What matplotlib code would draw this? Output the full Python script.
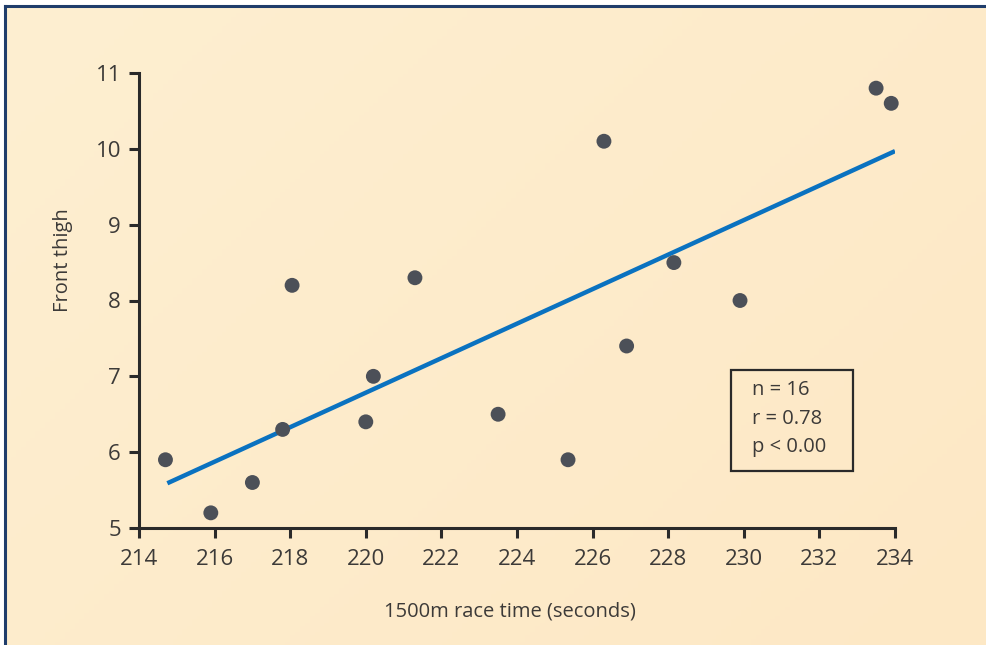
import numpy as np
import matplotlib
matplotlib.use("Agg")
import matplotlib.pyplot as plt
from matplotlib.patches import Rectangle
from matplotlib.colors import LinearSegmentedColormap

plt.rcParams['font.family'] = ['Open Sans', 'DejaVu Sans']

# Race time (s) vs. front thigh measurement
race_time = [214.7, 215.9, 217.0, 217.8, 218.05, 220.0, 220.2, 221.3,
             223.5, 225.35, 226.3, 226.9, 228.15, 229.9, 233.5, 233.9]
front_thigh = [5.9, 5.2, 5.6, 6.3, 8.2, 6.4, 7.0, 8.3,
               6.5, 5.9, 10.1, 7.4, 8.5, 8.0, 10.8, 10.6]

# Fitted trend line end points
fit_x = [214.75, 234.0]
fit_y = [5.59, 9.97]

x_ticks = [214, 216, 218, 220, 222, 224, 226, 228, 230, 232, 234]
y_ticks = [5, 6, 7, 8, 9, 10, 11]
stats_lines = ["n = 16", "r = 0.78", "p < 0.00"]

W, H = 986, 645
fig = plt.figure(figsize=(W / 100, H / 100), dpi=100)
fig.patch.set_facecolor('white')

# Panel background with a soft warm gradient
bg = fig.add_axes([6 / W, 0, 1 - 6 / W, 1 - 7 / H])
bg.set_axis_off()
cmap = LinearSegmentedColormap.from_list('warm', ['#fdefd1', '#fde8c5'])
gx, gy = np.meshgrid(np.linspace(0, 1, 200), np.linspace(0, 1, 200))
bg.imshow(0.6 * gx + 0.4 * gy, cmap=cmap, aspect='auto', extent=[0, 1, 1, 0])
bg.set_xlim(0, 1)
bg.set_ylim(1, 0)

# Frame lines along the top and left edges
fig.add_artist(plt.Line2D([5 / W, 1], [1 - 6 / H, 1 - 6 / H], color='#1f3d6b', lw=2.2))
fig.add_artist(plt.Line2D([5 / W, 5 / W], [0, 1 - 6 / H], color='#1f3d6b', lw=2.2))

ax = fig.add_axes([139 / W, 1 - 528 / H, (895 - 139) / W, (528 - 73) / H])
ax.set_facecolor('none')
ax.set_xlim(214, 234)
ax.set_ylim(5, 11)

ink = '#2a2a2a'
txt = '#3c3a38'
for s in ['top', 'right']:
    ax.spines[s].set_visible(False)
for s in ['left', 'bottom']:
    ax.spines[s].set_color(ink)
    ax.spines[s].set_linewidth(2.2)

ax.set_xticks(x_ticks)
ax.set_yticks(y_ticks)
ax.tick_params(axis='both', direction='out', length=7, width=2.2, color=ink,
               labelcolor=txt, labelsize=16)
ax.tick_params(axis='x', pad=8)
ax.tick_params(axis='y', pad=6)

ax.plot(fit_x, fit_y, color='#0a72c0', lw=3.2, solid_capstyle='butt', zorder=2)
ax.scatter(race_time, front_thigh, s=115, color='#4c5058', edgecolors='none',
           zorder=3, clip_on=False)

fig.text(510 / W, 1 - 612 / H, '1500m race time (seconds)', ha='center', va='center',
         fontsize=14.5, color=txt)
fig.text(63 / W, 1 - 260 / H, 'Front thigh', ha='center', va='center', rotation=90,
         fontsize=14.5, color=txt)

# Summary statistics box
fig.add_artist(Rectangle((731 / W, 1 - 471 / H), (853 - 731) / W, (471 - 370) / H,
                         transform=fig.transFigure, facecolor='none',
                         edgecolor=ink, lw=1.6))
for i, line in enumerate(stats_lines):
    fig.text(752 / W, 1 - (390 + 28.5 * i) / H, line, ha='left', va='center',
             fontsize=14.5, color=txt)

fig.savefig('out.png', dpi=100)
